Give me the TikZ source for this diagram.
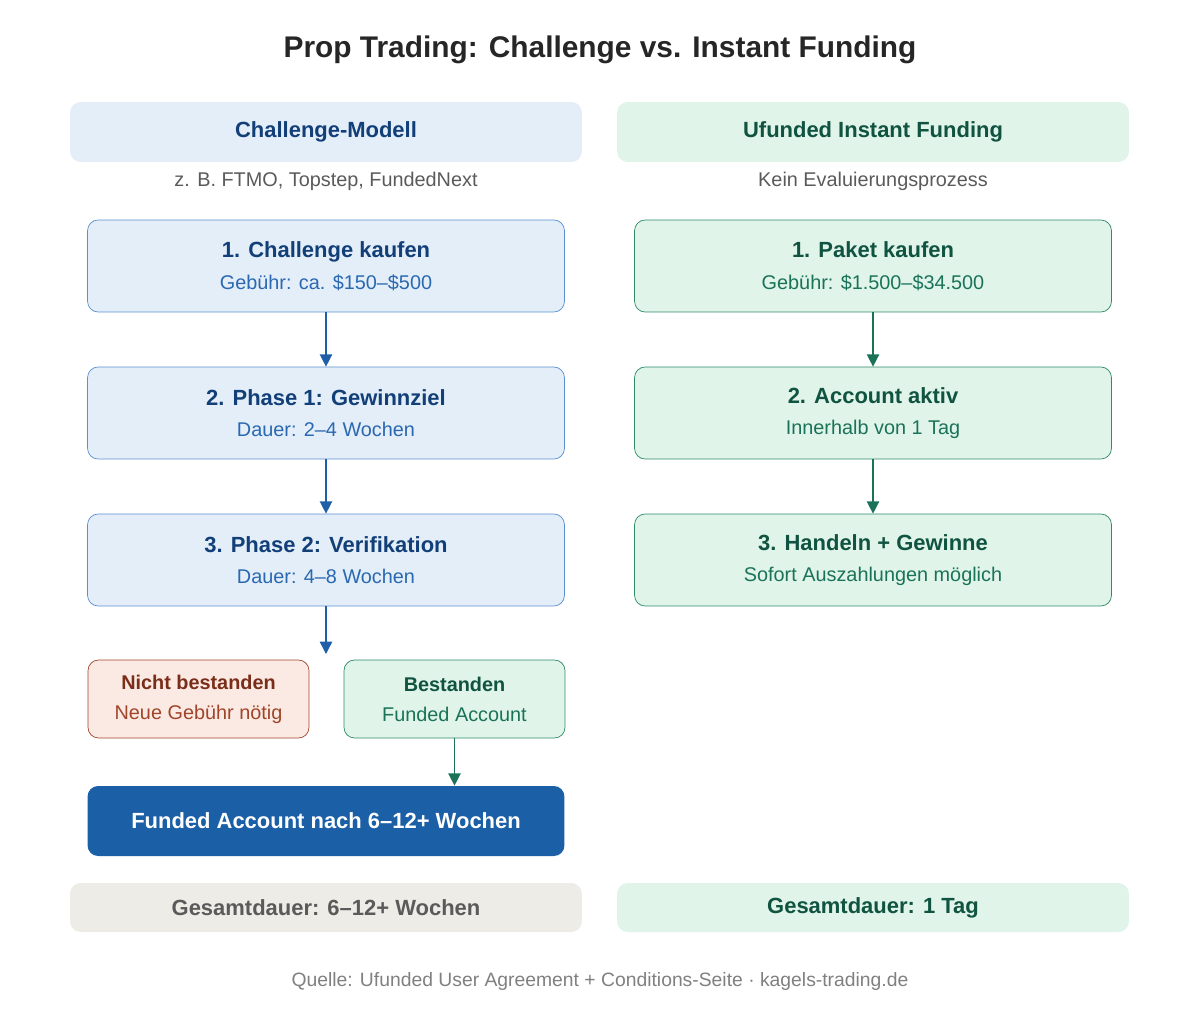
\documentclass[tikz,border=0pt]{standalone}
\usepackage{fontspec}
\setmainfont{Liberation Sans}
\usetikzlibrary{arrows.meta}
\definecolor{cblue}{HTML}{E3EEF9}
\definecolor{cbluedraw}{HTML}{5B8FCF}
\definecolor{cbluetxt}{HTML}{123F78}
\definecolor{cbluesub}{HTML}{2A68B0}
\definecolor{cbluearr}{HTML}{1F5FA8}
\definecolor{cgreen}{HTML}{E0F4EA}
\definecolor{cgreendraw}{HTML}{2E8A68}
\definecolor{cgreentxt}{HTML}{0F5340}
\definecolor{cgreensub}{HTML}{1A7359}
\definecolor{cred}{HTML}{FBEAE3}
\definecolor{creddraw}{HTML}{A0452A}
\definecolor{credtxt}{HTML}{7A2E1A}
\definecolor{cdark}{HTML}{1B5FA6}
\definecolor{cgray}{HTML}{EEECE6}
\definecolor{cgraytxt}{HTML}{5A5A5A}
\tikzstyle{header} = [rectangle, rounded corners=6pt, minimum width=10.24cm, minimum height=1.2cm, text centered, font=\fontsize{12.5}{15}\selectfont\bfseries]
\tikzstyle{footer} = [rectangle, rounded corners=6pt, minimum width=10.24cm, minimum height=0.98cm, text centered, font=\fontsize{12.5}{15}\selectfont\bfseries]
\tikzstyle{note} = [text centered, text=cgraytxt, font=\fontsize{11.3}{14}\selectfont]
\tikzstyle{blue_block} = [rectangle, rounded corners=6pt, minimum width=9.54cm, minimum height=1.84cm, align=center, draw=cbluedraw, fill=cblue, font=\fontsize{11.3}{18}\selectfont]
\tikzstyle{green_block} = [rectangle, rounded corners=6pt, minimum width=9.54cm, minimum height=1.84cm, align=center, draw=cgreendraw, fill=cgreen, font=\fontsize{11.3}{18}\selectfont]
\tikzstyle{small_block} = [rectangle, rounded corners=6pt, minimum width=4.42cm, minimum height=1.56cm, align=center, font=\fontsize{11.3}{17}\selectfont]
\tikzstyle{arrow} = [thick, -{Triangle[length=7pt,width=7pt]}]
\begin{document}
\begin{tikzpicture}[x=0.02cm, y=-0.02cm]
	\useasboundingbox (0,0) rectangle (1200,1024);
	\node (title) at (600,50) [font=\fontsize{17}{20}\selectfont\bfseries, text=black!85] {Prop Trading: Challenge vs. Instant Funding};

	% left column
	\node (hl) at (326,132) [header, fill=cblue, text=cbluetxt] {Challenge-Modell};
	\node (nl) at (326,181) [note] {z. B. FTMO, Topstep, FundedNext};
	\node (l1) at (326,266) [blue_block] {\textcolor{cbluetxt}{\fontsize{12.5}{15}\selectfont\bfseries 1. Challenge kaufen}\\\textcolor{cbluesub}{Gebühr: ca. \$150–\$500}};
	\node (l2) at (326,413) [blue_block] {\textcolor{cbluetxt}{\fontsize{12.5}{15}\selectfont\bfseries 2. Phase 1: Gewinnziel}\\\textcolor{cbluesub}{Dauer: 2–4 Wochen}};
	\node (l3) at (326,560) [blue_block] {\textcolor{cbluetxt}{\fontsize{12.5}{15}\selectfont\bfseries 3. Phase 2: Verifikation}\\\textcolor{cbluesub}{Dauer: 4–8 Wochen}};
	\coordinate (split) at (326,654);
	\node (fail) at (198.5,699) [small_block, draw=creddraw, fill=cred] {\textcolor{credtxt}{\bfseries Nicht bestanden}\\\textcolor{creddraw}{Neue Gebühr nötig}};
	\node (pass) at (454.5,699) [small_block, draw=cgreendraw, fill=cgreen] {\textcolor{cgreentxt}{\bfseries Bestanden}\\\textcolor{cgreensub}{Funded Account}};
	\node (funded) at (326,821) [rectangle, rounded corners=6pt, minimum width=9.54cm, minimum height=1.4cm, fill=cdark, text=white, font=\fontsize{12.5}{15}\selectfont\bfseries] {Funded Account nach 6–12+ Wochen};
	\node (fl) at (326,907.5) [footer, fill=cgray, text=cgraytxt] {Gesamtdauer: 6–12+ Wochen};

	% right column
	\node (hr) at (873,132) [header, fill=cgreen, text=cgreentxt] {Ufunded Instant Funding};
	\node (nr) at (873,181) [note] {Kein Evaluierungsprozess};
	\node (r1) at (873,266) [green_block] {\textcolor{cgreentxt}{\fontsize{12.5}{15}\selectfont\bfseries 1. Paket kaufen}\\\textcolor{cgreensub}{Gebühr: \$1.500–\$34.500}};
	\node (r2) at (873,413) [green_block] {\textcolor{cgreentxt}{\fontsize{12.5}{15}\selectfont\bfseries 2. Account aktiv}\\\textcolor{cgreensub}{Innerhalb von 1 Tag}};
	\node (r3) at (873,560) [green_block] {\textcolor{cgreentxt}{\fontsize{12.5}{15}\selectfont\bfseries 3. Handeln + Gewinne}\\\textcolor{cgreensub}{Sofort Auszahlungen möglich}};
	\node (fr) at (873,907.5) [footer, fill=cgreen, text=cgreentxt] {Gesamtdauer: 1 Tag};

	\node (src) at (600,981) [note, text=black!50, font=\fontsize{11}{13}\selectfont] {Quelle: Ufunded User Agreement + Conditions-Seite · kagels-trading.de};

	\draw [arrow, cbluearr] (l1) -- (l2);
	\draw [arrow, cbluearr] (l2) -- (l3);
	\draw [arrow, cbluearr] (l3) -- (split);
	\draw [arrow, cgreensub] (pass.south) -- (pass.south |- funded.north);
	\draw [arrow, cgreensub] (r1) -- (r2);
	\draw [arrow, cgreensub] (r2) -- (r3);
\end{tikzpicture}
\end{document}
